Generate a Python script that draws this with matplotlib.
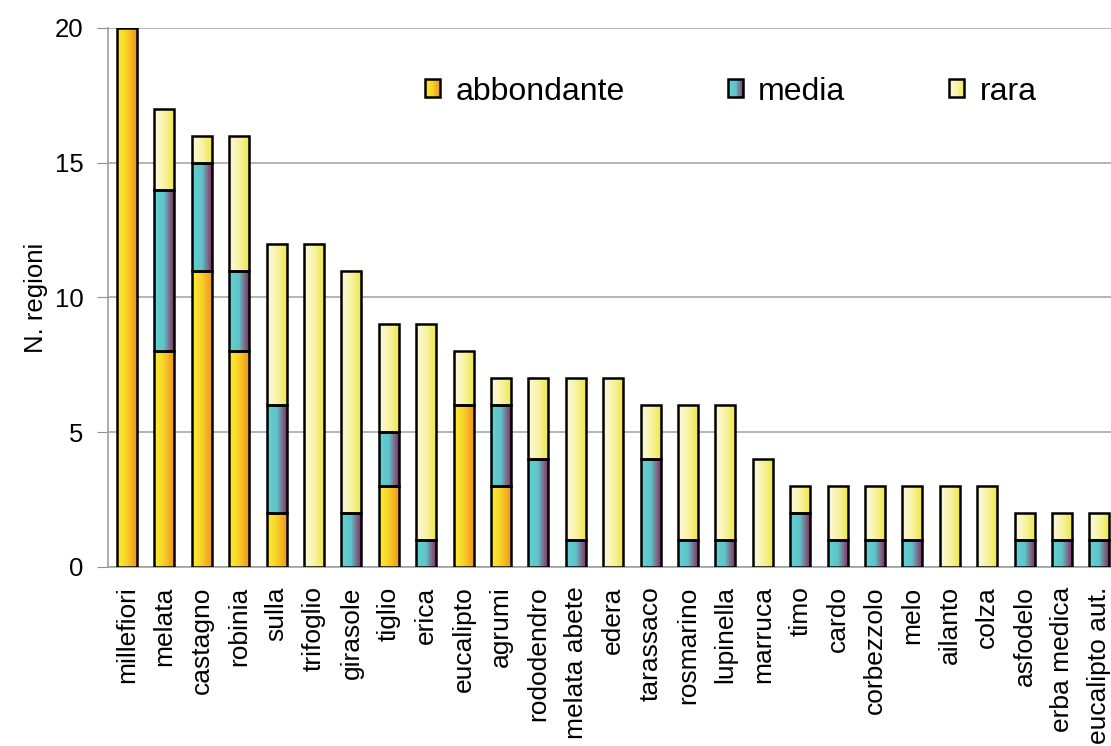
import numpy as np
import matplotlib.pyplot as plt
from matplotlib.colors import LinearSegmentedColormap
from matplotlib.legend_handler import HandlerBase
from matplotlib.patches import Rectangle

plt.rcParams['font.family'] = ['Liberation Sans', 'DejaVu Sans']

categories = ["millefiori", "melata", "castagno", "robinia", "sulla", "trifoglio",
              "girasole", "tiglio", "erica", "eucalipto", "agrumi", "rododendro",
              "melata abete", "edera", "tarassaco", "rosmarino", "lupinella",
              "marruca", "timo", "cardo", "corbezzolo", "melo", "ailanto", "colza",
              "asfodelo", "erba medica", "eucalipto aut."]
abbondante = [20, 8, 11, 8, 2, 0, 0, 3, 0, 6, 3, 0, 0, 0, 0, 0, 0,
              0, 0, 0, 0, 0, 0, 0, 0, 0, 0]
media = [0, 6, 4, 3, 4, 0, 2, 2, 1, 0, 3, 4, 1, 0, 4, 1, 1,
         0, 2, 1, 1, 1, 0, 0, 1, 1, 1]
rara = [0, 3, 1, 5, 6, 12, 9, 4, 8, 2, 1, 3, 6, 7, 2, 5, 5,
        4, 1, 2, 2, 2, 3, 3, 1, 1, 1]
series_names = ["abbondante", "media", "rara"]

# horizontal gradients (left -> right) for each series
cmaps = {
    "abbondante": LinearSegmentedColormap.from_list(
        "ab", [(0, "#faee34"), (0.45, "#f8d42a"), (1, "#f2961c")]),
    "media": LinearSegmentedColormap.from_list(
        "me", [(0, "#62d2d4"), (0.5, "#5ec4c8"), (1, "#8a2e62")]),
    "rara": LinearSegmentedColormap.from_list(
        "ra", [(0, "#fcf9e0"), (0.5, "#f8f3a8"), (1, "#efe84a")]),
}


class GradientHandler(HandlerBase):
    def __init__(self, cmap, nstripes=12):
        super().__init__()
        self.cmap = cmap
        self.nstripes = nstripes

    def create_artists(self, legend, orig_handle, xdescent, ydescent,
                       width, height, fontsize, trans):
        artists = []
        w = width / self.nstripes
        for i in range(self.nstripes):
            c = self.cmap((i + 0.5) / self.nstripes)
            artists.append(Rectangle((-xdescent + i * w, -ydescent), w * 1.05, height,
                                     facecolor=c, edgecolor='none', transform=trans))
        artists.append(Rectangle((-xdescent, -ydescent), width, height,
                                 facecolor='none', edgecolor='black', lw=1.8,
                                 transform=trans))
        return artists


fig = plt.figure(figsize=(11.11, 7.46), dpi=100)
ax = fig.add_axes([108.3 / 1111, 1 - 567 / 746, 1 - 108.3 / 1111, (567 - 28) / 746])

x = np.arange(len(categories))
bar_w = 0.53
bottom = np.zeros(len(categories))
handles = []
for name, vals in zip(series_names, [abbondante, media, rara]):
    vals = np.array(vals, dtype=float)
    bars = ax.bar(x, vals, bar_w, bottom=bottom, facecolor='none',
                  edgecolor='black', linewidth=1.8, zorder=4, label=name)
    grad = np.linspace(0, 1, 64).reshape(1, -1)
    for rect, v in zip(bars.patches, vals):
        if v <= 0:
            rect.set_visible(False)
            continue
        x0 = rect.get_x()
        y0 = rect.get_y()
        ax.imshow(grad, cmap=cmaps[name], aspect='auto', zorder=3,
                  extent=[x0, x0 + rect.get_width(), y0, y0 + rect.get_height()],
                  interpolation='bilinear')
    handles.append(bars)
    bottom += vals

ax.set_xlim(-0.5, -0.5 + (1111 - 108.3) / 37.4)
ax.set_ylim(0, 20)
ax.set_yticks([0, 5, 10, 15, 20])
ax.set_xticks(x)
ax.set_xticklabels(categories, rotation=90, fontsize=19)
ax.tick_params(axis='x', length=0, pad=14)
ax.tick_params(axis='y', labelsize=18.5, length=8, color='#909090', pad=10)
ax.yaxis.grid(True, color='#a8a8a8', linewidth=1.2, zorder=0)
ax.set_axisbelow(True)
for s in ['top', 'right']:
    ax.spines[s].set_visible(False)
for s in ['left', 'bottom']:
    ax.spines[s].set_color('#a0a0a0')
    ax.spines[s].set_linewidth(1.2)
ax.set_ylabel("N. regioni", fontsize=18.5, labelpad=5)

handler_map = {h: GradientHandler(cmaps[n]) for h, n in zip(handles, series_names)}
ax.legend(handles, series_names, handler_map=handler_map, ncol=3, frameon=False,
          fontsize=23, handlelength=0.47, handleheight=0.5, handletextpad=0.47,
          columnspacing=3.25, loc='center left', bbox_to_anchor=(0.316, 0.882),
          bbox_transform=ax.transAxes, borderaxespad=0, borderpad=0)

fig.savefig("out.png", dpi=100)
